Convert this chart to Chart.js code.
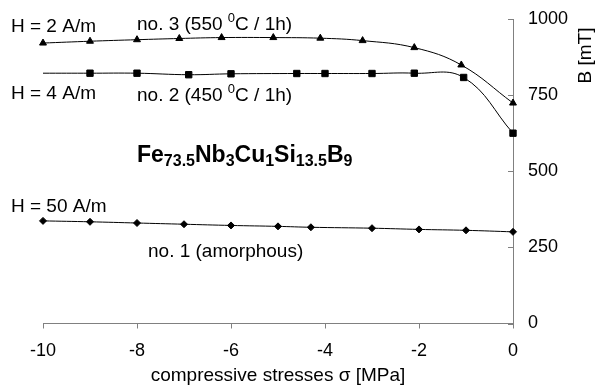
<!DOCTYPE html>
<html>
<head>
<meta charset="utf-8">
<script src="https://cdn.jsdelivr.net/npm/chart.js@4.4.1/dist/chart.umd.min.js"></script>
<style>
  html, body { margin: 0; padding: 0; background: #fff; }
  #wrap { position: relative; width: 598px; height: 385px; }
</style>
</head>
<body>
<div id="wrap"><canvas id="bChart"></canvas></div>
<script>
// no. 3 (550 C / 1h), H = 2 A/m
const stressNo3 = [-10, -9, -8, -7.1, -6.2, -5.1, -4.1, -3.2, -2.1, -1.1, 0];
const bNo3 = [921, 927, 932, 936, 939, 939, 937, 929, 906, 849, 724];
// no. 2 (450 C / 1h), H = 4 A/m
const stressNo2 = [-10, -9, -8, -6.9, -6, -4.6, -4, -3, -2.1, -1.05, 0];
const bNo2 = [822, 822, 822, 817, 820, 821, 821, 821, 822, 808, 625];
// no. 1 (amorphous), H = 50 A/m
const stressNo1 = [-10, -9, -8, -7, -6, -5, -4.3, -3, -2, -1, 0];
const bNo1 = [337, 334, 330, 326, 322, 319, 316, 313, 309, 306, 301];

const xTicks = [-10, -8, -6, -4, -2, 0];
const yTicks = [0, 250, 500, 750, 1000];

const FONT = "'Liberation Sans', Arial, sans-serif";
const axisGray = '#808080';

Chart.defaults.font.family = FONT;
Chart.defaults.font.size = 18;
Chart.defaults.color = '#000';

const toPoints = (xs, ys) => xs.map((x, i) => ({ x: x, y: ys[i] }));

const seriesStyle = (style, radius) => ({
  borderColor: '#000',
  backgroundColor: '#000',
  borderWidth: 1,
  pointStyle: style,
  pointRadius: radius,
  pointBorderWidth: 1,
  pointBorderColor: '#000',
  pointBackgroundColor: '#000',
  tension: 0.4,
  clip: false
});

// the plot box is fixed by layout.padding, not by label overhang
const noScalePadding = scale => {
  scale.paddingTop = 0;
  scale.paddingBottom = 0;
  scale.paddingLeft = 0;
  scale.paddingRight = 0;
};

// draws a line of text made of runs with different sizes / offsets
const drawRuns = (ctx, x, y, runs) => {
  runs.forEach(([text, size, bold, dy]) => {
    ctx.font = `${bold ? 'bold ' : ''}${size}px ${FONT}`;
    ctx.fillText(text, x, y + dy);
    x += ctx.measureText(text).width;
  });
};

const labelsPlugin = {
  id: 'labels',
  afterDraw(chart) {
    const { ctx, chartArea, scales } = chart;
    ctx.save();

    // y ticks point into the plot
    ctx.strokeStyle = axisGray;
    ctx.lineWidth = 1;
    yTicks.forEach(v => {
      const py = Math.round(scales.y.getPixelForValue(v)) + 0.5;
      ctx.beginPath();
      ctx.moveTo(chartArea.right - 5, py);
      ctx.lineTo(chartArea.right, py);
      ctx.stroke();
    });

    ctx.fillStyle = '#000';
    ctx.textAlign = 'left';
    ctx.textBaseline = 'alphabetic';

    drawRuns(ctx, 11, 32, [['H = 2 A/m', 19, false, 0]]);
    drawRuns(ctx, 137, 29.5, [['no. 3 (550 ', 19, false, 0], ['0', 13, false, -8], ['C / 1h)', 19, false, 0]]);
    drawRuns(ctx, 11, 99, [['H = 4 A/m', 19, false, 0]]);
    drawRuns(ctx, 137, 101, [['no. 2 (450 ', 19, false, 0], ['0', 13, false, -8], ['C / 1h)', 19, false, 0]]);
    drawRuns(ctx, 11, 211.5, [['H = 50 A/m', 19, false, 0]]);
    drawRuns(ctx, 148, 256.5, [['no. 1 (amorphous)', 19, false, 0]]);

    drawRuns(ctx, 137, 161.5, [
      ['Fe', 23, true, 0], ['73.5', 16, true, 4.5],
      ['Nb', 23, true, 0], ['3', 16, true, 4.5],
      ['Cu', 23, true, 0], ['1', 16, true, 4.5],
      ['Si', 23, true, 0], ['13.5', 16, true, 4.5],
      ['B', 23, true, 0], ['9', 16, true, 4.5]
    ]);

    // y axis title, reading bottom to top
    ctx.translate(590.5, 55.5);
    ctx.rotate(-Math.PI / 2);
    ctx.textAlign = 'center';
    ctx.font = `19px ${FONT}`;
    ctx.fillText('B [mT]', 0, 0);

    ctx.restore();
  }
};

const canvas = document.getElementById('bChart');

new Chart(canvas.getContext('2d'), {
  type: 'line',
  data: {
    datasets: [
      { label: 'no. 3', data: toPoints(stressNo3, bNo3), ...seriesStyle('triangle', 4) },
      {
        label: 'no. 2', data: toPoints(stressNo2, bNo2), ...seriesStyle('rect', 4.5),
        pointRadius: ctx => (ctx.dataIndex === 0 ? 0 : 4.5)
      },
      { label: 'no. 1', data: toPoints(stressNo1, bNo1), ...seriesStyle('rectRot', 3.5) }
    ]
  },
  options: {
    responsive: true,
    maintainAspectRatio: false,
    animation: false,
    events: [],
    layout: { padding: { left: 43, top: 19, right: 0, bottom: 0 } },
    plugins: {
      legend: { display: false },
      tooltip: { enabled: false }
    },
    scales: {
      x: {
        type: 'linear',
        min: -10,
        max: 0,
        afterBuildTicks: scale => { scale.ticks = xTicks.map(v => ({ value: v })); },
        afterFit: scale => { scale.height = 61.5; noScalePadding(scale); },
        grid: { drawOnChartArea: false, drawTicks: true, tickLength: 5, color: axisGray },
        border: { color: axisGray, width: 1 },
        ticks: { padding: 12, maxRotation: 0, callback: v => String(v) },
        title: { display: true, text: 'compressive stresses σ [MPa]', font: { size: 19 }, padding: { top: 0, bottom: -2 } }
      },
      y: {
        type: 'linear',
        position: 'right',
        min: 0,
        max: 1000,
        afterBuildTicks: scale => { scale.ticks = yTicks.map(v => ({ value: v })); },
        afterFit: scale => { scale.width = 85; noScalePadding(scale); },
        grid: { drawOnChartArea: false, drawTicks: false },
        border: { color: axisGray, width: 1 },
        ticks: { padding: 15, callback: v => String(v) }
      }
    }
  },
  plugins: [labelsPlugin]
});
</script>
</body>
</html>
